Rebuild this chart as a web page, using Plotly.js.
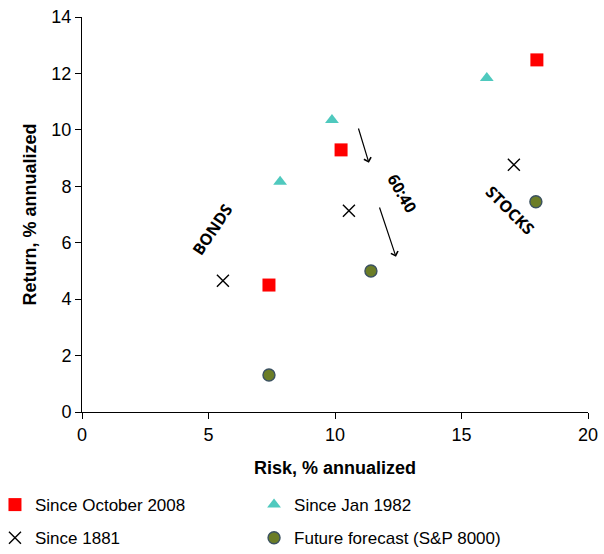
<!DOCTYPE html>
<html>
<head>
<meta charset="utf-8">
<script src="https://cdn.plot.ly/plotly-3.0.1.min.js"></script>
<style>html,body{margin:0;padding:0;background:#fff;}#chart{width:604px;height:554px;}</style>
</head>
<body>
<div id="chart"></div>
<script>
// Data (risk %, return %)
const oct2008Risk = [7.39, 10.24, 17.98];
const oct2008Ret  = [4.50, 9.29, 12.48];
const jan1982Risk = [7.83, 9.88, 16.00];
const jan1982Ret  = [8.16, 10.35, 11.84];
const s1881Risk   = [5.57, 10.55, 17.07];
const s1881Ret    = [4.65, 7.13, 8.76];
const futureRisk  = [7.39, 11.42, 17.94];
const futureRet   = [1.31, 5.00, 7.45];
const seriesNames = ["Since October 2008", "Since Jan 1982", "Since 1881", "Future forecast (S&P 8000)"];
const xTicks = [0, 5, 10, 15, 20];
const yTicks = [0, 2, 4, 6, 8, 10, 12, 14];

const FONT = "Liberation Sans, Arial, sans-serif";

const traces = [
  {x: oct2008Risk, y: oct2008Ret, name: seriesNames[0], type: "scatter", mode: "markers",
   marker: {symbol: "square", size: 13, color: "#FF0000"}, legend: "legend", legendgroup: "a"},
  {x: jan1982Risk, y: jan1982Ret, name: seriesNames[1], type: "scatter", mode: "markers",
   marker: {symbol: "triangle-up", size: 12, color: "#4FC9BE"}, legend: "legend2", legendgroup: "b"},
  {x: s1881Risk, y: s1881Ret, name: seriesNames[2], type: "scatter", mode: "markers",
   marker: {symbol: "x-thin", size: 12, color: "#000", line: {color: "#000", width: 1.4}}, legend: "legend", legendgroup: "c"},
  {x: futureRisk, y: futureRet, name: seriesNames[3], type: "scatter", mode: "markers",
   marker: {symbol: "circle", size: 12, color: "#6B7D27", line: {color: "#3B5160", width: 1.4}}, legend: "legend2", legendgroup: "d"}
];

const annFont = {family: "Open Sans, sans-serif", size: 16, color: "#000", weight: "bold"};

const layout = {
  width: 604, height: 554,
  margin: {l: 82, r: 16, t: 17, b: 142, autoexpand: false},
  paper_bgcolor: "#fff", plot_bgcolor: "#fff",
  font: {family: FONT, size: 18, color: "#000"},
  xaxis: {
    range: [0, 20], tickvals: xTicks, ticktext: xTicks.map(String), automargin: false,
    showgrid: false, zeroline: false, showline: true, linecolor: "#000", linewidth: 1,
    ticks: "outside", ticklen: 6, tickcolor: "#000",
    tickfont: {family: FONT, size: 18},
    title: {text: "Risk, % annualized", font: {family: FONT, size: 18, weight: "bold"}, standoff: 17}
  },
  yaxis: {
    range: [0, 14], tickvals: yTicks, ticktext: yTicks.map(String), automargin: false,
    showgrid: false, zeroline: false, showline: true, linecolor: "#000", linewidth: 1,
    ticks: "outside", ticklen: 6, tickcolor: "#000",
    tickfont: {family: FONT, size: 18},
    title: {text: "Return, % annualized", font: {family: FONT, size: 18, weight: "bold"}, standoff: 10}
  },
  showlegend: true,
  legend: {x: -0.172, xanchor: "left", y: -0.19, yanchor: "top", orientation: "v",
           font: {family: FONT, size: 17}, tracegroupgap: 8, itemwidth: 30, bgcolor: "rgba(0,0,0,0)"},
  legend2: {x: 0.34, xanchor: "left", y: -0.19, yanchor: "top", orientation: "v",
           font: {family: FONT, size: 17}, tracegroupgap: 8, itemwidth: 30, bgcolor: "rgba(0,0,0,0)"},
  annotations: [
    {x: 5.14, y: 6.45, xref: "x", yref: "y", text: "BONDS", showarrow: false, textangle: -56, font: annFont},
    {x: 12.65, y: 7.77, xref: "x", yref: "y", text: "60:40", showarrow: false, textangle: 60, font: annFont},
    {x: 16.92, y: 7.16, xref: "x", yref: "y", text: "STOCKS", showarrow: false, textangle: 45, font: annFont},
    {x: 11.34, y: 8.83, ax: 10.91, ay: 10.10, xref: "x", yref: "y", axref: "x", ayref: "y",
     text: "", showarrow: true, arrowhead: 4, arrowsize: 1.2, arrowwidth: 1.2, arrowcolor: "#000"},
    {x: 12.41, y: 5.50, ax: 11.74, ay: 7.30, xref: "x", yref: "y", axref: "x", ayref: "y",
     text: "", showarrow: true, arrowhead: 4, arrowsize: 1.2, arrowwidth: 1.2, arrowcolor: "#000"}
  ]
};

Plotly.newPlot("chart", traces, layout, {displayModeBar: false, staticPlot: true});
</script>
</body>
</html>
